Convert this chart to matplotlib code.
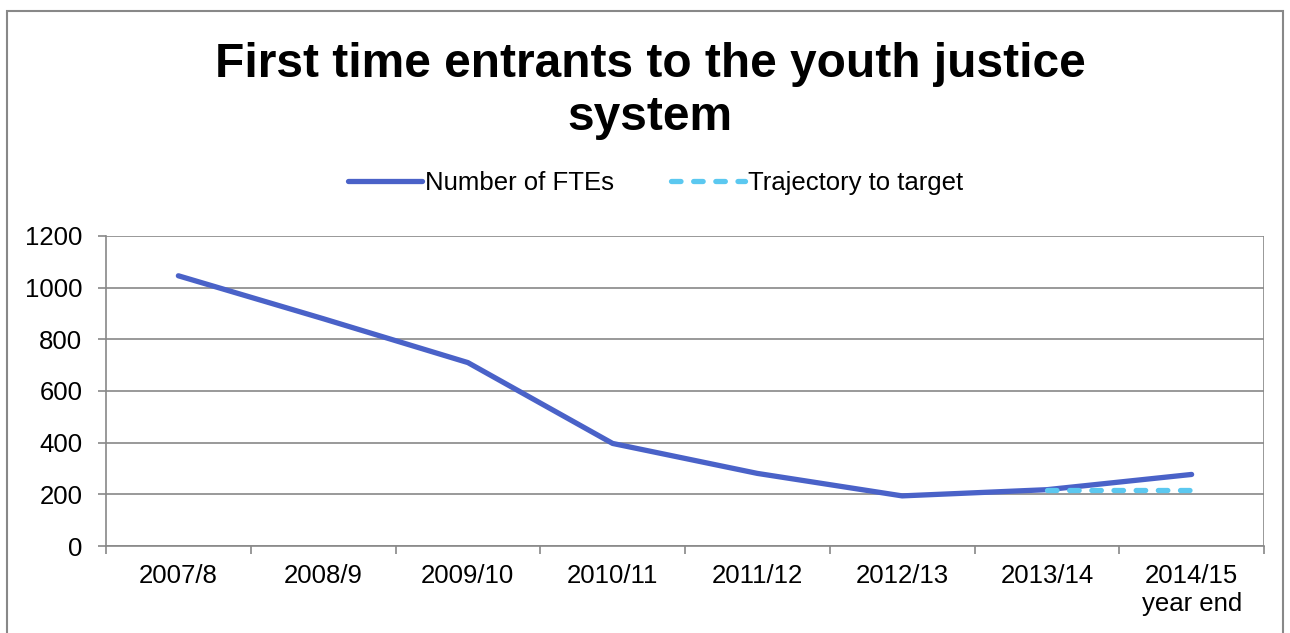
import numpy as np
import matplotlib.pyplot as plt
from matplotlib.patches import Rectangle

plt.rcParams['font.family'] = ['Liberation Sans', 'DejaVu Sans']

years = ['2007/8', '2008/9', '2009/10', '2010/11', '2011/12', '2012/13',
         '2013/14', '2014/15\nyear end']
ftes = [1046, 880, 710, 397, 281, 194, 218, 277]
traj_years = ['2013/14', '2014/15\nyear end']
trajectory = [217, 217]

fig = plt.figure(figsize=(12.9, 6.33), dpi=100)
fig.patches.append(Rectangle((7 / 1290, -0.05), 1276 / 1290, 1 - 11 / 633 + 0.05,
                             transform=fig.transFigure, fill=False,
                             edgecolor='#888888', linewidth=1.5))

ax = fig.add_axes([106 / 1290, 1 - 546 / 633, (1264 - 106) / 1290, (546 - 236) / 633])

x = np.arange(len(years))
xt = [years.index(t) for t in traj_years]
ax.plot(x, ftes, color='#4A62C8', linewidth=3.8, solid_capstyle='round',
        label='Number of FTEs')
ax.plot(xt, trajectory, color='#5BC8F0', linewidth=3.8, linestyle=(0, (1.8, 2.4)),
        dash_capstyle='round', label='Trajectory to target')

ax.set_xlim(-0.5, len(years) - 0.5)
ax.set_ylim(0, 1200)
ax.set_yticks(np.arange(0, 1201, 200))
ax.set_xticks(x)
ax.set_xticklabels(years)
ax.set_xticks(np.arange(-0.5, len(years), 1), minor=True)
ax.tick_params(axis='x', which='major', length=0, pad=13, labelsize=18.5)
ax.tick_params(axis='x', which='minor', length=6, color='#888888', width=1.2)
ax.tick_params(axis='y', length=6, color='#888888', width=1.2, pad=11, labelsize=18.5)
ax.grid(axis='y', color='#888888', linewidth=1.2)
ax.set_axisbelow(True)
for s in ['top', 'right']:
    ax.spines[s].set_visible(False)
for s in ['left', 'bottom']:
    ax.spines[s].set_color('#888888')
    ax.spines[s].set_linewidth(1.2)
ax.axvline(len(years) - 0.5, color='#888888', linewidth=1.2)

fig.text(0.504, 1 - 91 / 633, 'First time entrants to the youth justice\nsystem',
         ha='center', va='center', fontsize=34.5, fontweight='bold', linespacing=1.22)

fig.legend(loc='center', bbox_to_anchor=(0.508, 1 - 183 / 633), ncol=2, frameon=False,
           fontsize=18.5, handlelength=2.9, handletextpad=0.1, columnspacing=2.2)

fig.savefig('out.png', dpi=100)
